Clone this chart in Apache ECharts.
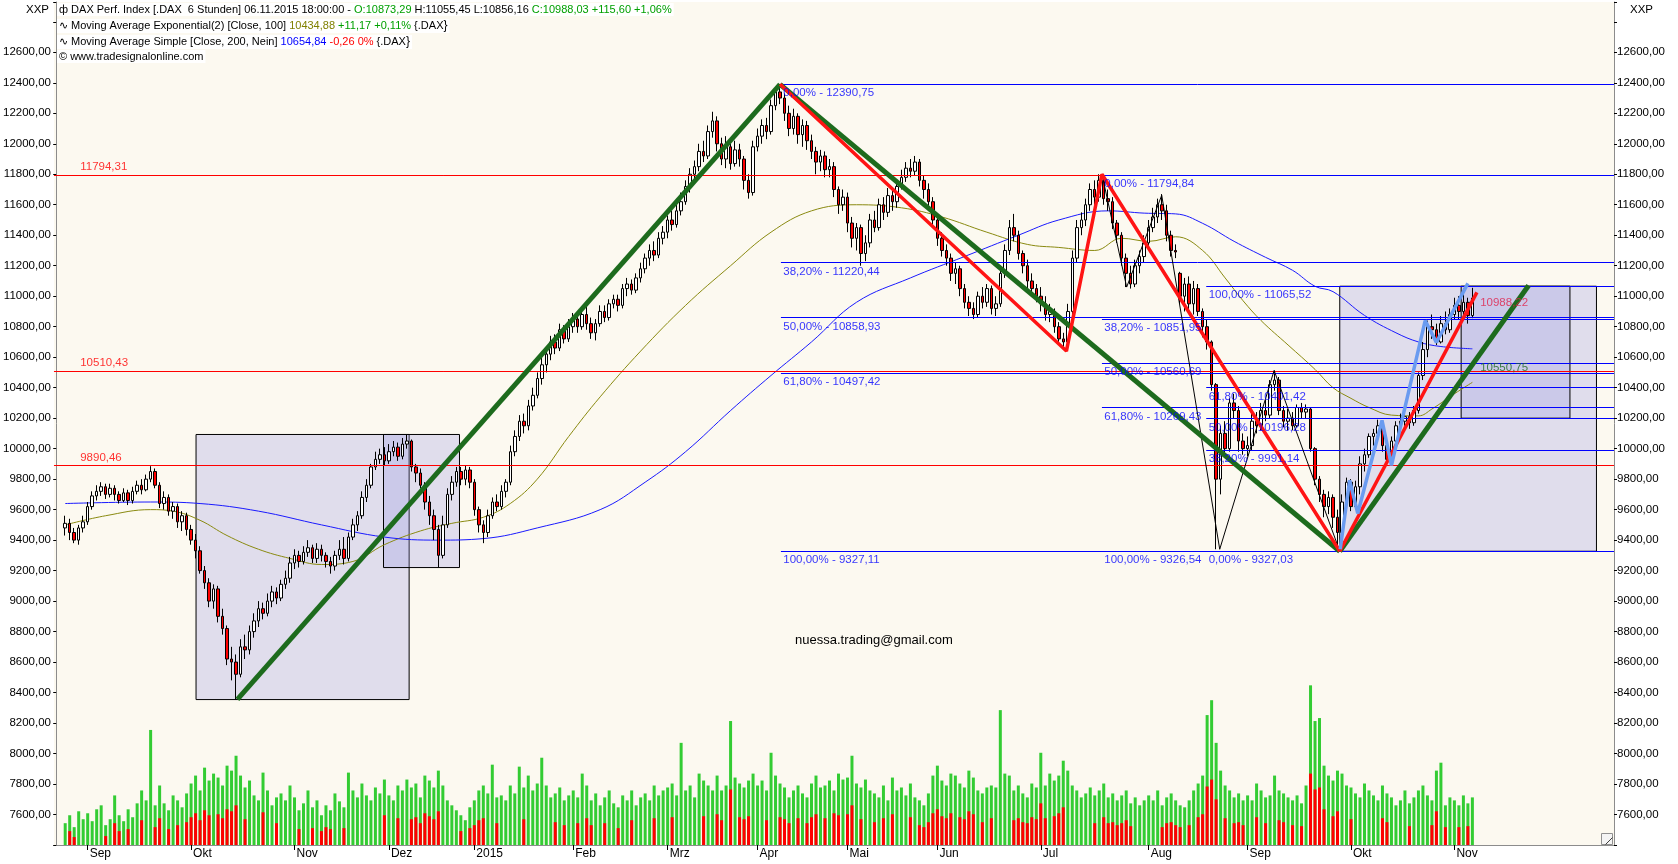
<!DOCTYPE html>
<html><head><meta charset="utf-8">
<script src="https://cdn.jsdelivr.net/npm/echarts/dist/echarts.min.js"></script>
<style>html,body{margin:0;padding:0;background:#fff;}#c{width:1678px;height:864px;}</style>
</head><body><div id="c"></div>
<script>
// ---------- data ----------
const firstBar = 2;           // slot index of first candle
const totalSlots = 347;       // bar slots on the time axis (incl. empty future area)
const monthIdx   = [7,30,53,74,93,115,136,156,176,196,219,243,265,288,311];
const monthNames = ['Sep','Okt','Nov','Dez','2015','Feb','Mrz','Apr','Mai','Jun','Jul','Aug','Sep','Okt','Nov'];
const priceTicks = [7600,12600,200];

// [open, close, low, high]
const candles = [
// Aug 2014
[9480,9510,9430,9560],[9510,9450,9400,9540],[9450,9400,9380,9480],[9400,9480,9370,9500],[9480,9520,9450,9560],
// Sep
[9520,9620,9500,9650],[9620,9690,9600,9720],[9690,9720,9660,9760],[9720,9750,9690,9780],[9750,9700,9670,9770],[9700,9740,9680,9770],[9740,9700,9660,9760],[9700,9660,9640,9720],[9660,9710,9650,9740],[9710,9660,9630,9730],[9660,9720,9640,9750],[9720,9760,9700,9790],[9760,9730,9700,9800],[9730,9800,9720,9830],[9800,9850,9780,9885],[9850,9760,9740,9870],[9760,9640,9610,9780],[9640,9680,9600,9720],[9680,9590,9560,9700],[9590,9620,9540,9650],[9620,9520,9480,9640],[9520,9560,9460,9590],[9560,9470,9430,9580],
// Okt
[9470,9400,9370,9500],[9400,9330,9280,9440],[9330,9200,9180,9360],[9200,9120,9080,9230],[9120,9000,8960,9150],[9000,9080,8950,9110],[9080,8900,8860,9100],[8900,8820,8780,8950],[8820,8620,8580,8840],[8620,8600,8480,8700],[8600,8520,8355,8650],[8520,8700,8500,8750],[8700,8680,8620,8780],[8680,8800,8650,8840],[8800,8870,8760,8920],[8870,8950,8830,9000],[8950,8920,8880,8990],[8920,9000,8900,9050],[9000,9060,8960,9100],[9060,9020,8980,9090],[9020,9110,9000,9140],[9110,9150,9080,9200],[9150,9250,9120,9290],
// Nov
[9250,9300,9210,9340],[9300,9260,9220,9330],[9260,9320,9240,9360],[9320,9350,9290,9400],[9350,9280,9250,9370],[9280,9340,9250,9380],[9340,9300,9260,9370],[9300,9260,9220,9320],[9260,9230,9180,9290],[9230,9300,9200,9330],[9300,9340,9270,9400],[9340,9280,9240,9420],[9280,9420,9260,9450],[9420,9500,9400,9540],[9500,9560,9460,9590],[9560,9680,9540,9720],[9680,9760,9650,9800],[9760,9880,9740,9900],[9880,9930,9860,9980],[9930,9960,9900,10000],[9960,9920,9890,10010],
// Dez
[9920,9980,9900,10030],[9980,10010,9950,10050],[10010,9950,9920,10040],[9950,10030,9930,10070],[10030,10050,10000,10090],[10050,9880,9850,10060],[9880,9840,9780,9900],[9840,9760,9740,9870],[9760,9650,9600,9780],[9650,9560,9500,9690],[9560,9470,9400,9600],[9470,9300,9220,9500],[9300,9500,9280,9560],[9500,9700,9480,9740],[9700,9780,9660,9820],[9780,9850,9750,9880],[9850,9800,9760,9880],[9800,9860,9760,9890],[9860,9780,9740,9880],
// Jan 2015
[9780,9600,9560,9800],[9600,9500,9450,9620],[9500,9450,9380,9530],[9450,9560,9420,9600],[9560,9650,9540,9680],[9650,9620,9590,9700],[9620,9720,9600,9760],[9720,9780,9680,9800],[9780,9980,9760,10020],[9980,10080,9950,10120],[10080,10180,10050,10220],[10180,10150,10100,10230],[10150,10280,10120,10320],[10280,10350,10250,10400],[10350,10460,10330,10500],[10460,10550,10420,10600],[10550,10620,10500,10660],[10620,10700,10580,10740],[10700,10660,10620,10750],[10660,10780,10640,10820],[10780,10720,10690,10810],[10720,10800,10700,10850],
// Feb
[10800,10850,10760,10890],[10850,10800,10760,10880],[10800,10880,10780,10920],[10880,10820,10780,10930],[10820,10760,10720,10860],[10760,10820,10710,10850],[10820,10900,10800,10940],[10900,10860,10830,10940],[10860,10950,10840,10980],[10950,10980,10920,11010],[10980,10940,10900,11010],[10940,11050,10920,11080],[11050,11080,11000,11120],[11080,11040,11010,11110],[11040,11120,11020,11150],[11120,11180,11090,11220],[11180,11250,11150,11280],[11250,11300,11200,11340],[11300,11270,11230,11360],[11270,11380,11250,11420],[11380,11420,11340,11460],
// Mrz
[11420,11500,11380,11530],[11500,11470,11430,11560],[11470,11560,11450,11600],[11560,11620,11530,11680],[11620,11720,11600,11760],[11720,11800,11680,11840],[11800,11850,11760,11890],[11850,11950,11820,12000],[11950,11920,11880,12020],[11920,12080,11900,12120],[12080,12150,12040,12210],[12150,12000,11950,12180],[12000,11900,11860,12040],[11900,11980,11840,12050],[11980,11870,11830,12000],[11870,11960,11850,12020],[11960,11900,11850,12000],[11900,11760,11700,11920],[11760,11680,11640,11800],[11680,11980,11660,12020],
// Apr
[11980,12050,11950,12100],[12050,12120,12000,12160],[12120,12080,12030,12170],[12080,12250,12060,12290],[12250,12340,12220,12370],[12340,12300,12260,12390],[12300,12200,12150,12330],[12200,12100,12050,12250],[12100,12180,12060,12230],[12180,12060,12000,12200],[12060,12120,11980,12160],[12120,12020,11960,12150],[12020,11950,11900,12060],[11950,11880,11800,11980],[11880,11920,11820,11960],[11920,11830,11780,11950],[11830,11850,11780,11900],[11850,11700,11650,11880],[11700,11600,11540,11720],[11600,11650,11560,11700],
// Mai
[11650,11480,11420,11680],[11480,11380,11320,11520],[11380,11450,11300,11480],[11450,11280,11200,11470],[11280,11350,11230,11400],[11350,11500,11320,11540],[11500,11450,11420,11560],[11450,11600,11430,11640],[11600,11550,11500,11650],[11550,11660,11520,11710],[11660,11620,11560,11700],[11620,11720,11580,11760],[11720,11780,11700,11830],[11780,11840,11750,11880],[11840,11820,11780,11900],[11820,11880,11790,11920],[11880,11760,11720,11900],[11760,11700,11640,11790],[11700,11620,11580,11740],[11620,11500,11460,11650],
// Jun
[11500,11380,11330,11530],[11380,11300,11260,11420],[11300,11250,11200,11340],[11250,11150,11100,11280],[11150,11180,11080,11220],[11180,11050,11000,11200],[11050,10960,10920,11080],[10960,10920,10870,11000],[10920,10880,10850,10960],[10880,11000,10860,11030],[11000,10960,10920,11060],[10960,11050,10930,11080],[11050,10920,10880,11070],[10920,10950,10870,11000],[10950,11150,10930,11200],[11150,11300,11120,11340],[11300,11450,11270,11500],[11450,11400,11360,11540],[11400,11280,11240,11430],[11280,11200,11150,11300],[11200,11100,11050,11240],[11100,11050,11020,11150],[11050,11000,10960,11080],
// Jul
[11000,10950,10900,11060],[10950,10880,10840,11000],[10880,10900,10830,10950],[10900,10800,10760,10920],[10800,10720,10680,10830],[10720,10700,10650,10760],[10700,10900,10690,10950],[10900,11250,10880,11300],[11250,11450,11220,11500],[11450,11500,11400,11550],[11500,11600,11460,11640],[11600,11700,11560,11740],[11700,11650,11600,11760],[11650,11760,11620,11800],[11760,11640,11600,11790],[11640,11620,11560,11700],[11620,11480,11440,11650],[11480,11400,11350,11500],[11400,11250,11200,11420],[11250,11150,11060,11280],[11150,11080,11050,11200],[11080,11200,11060,11240],[11200,11260,11150,11300],[11260,11350,11220,11400],
// Aug
[11350,11450,11320,11500],[11450,11520,11420,11580],[11520,11600,11480,11640],[11600,11560,11500,11670],[11560,11400,11360,11600],[11400,11300,11260,11430],[11300,11290,11250,11340],[11150,11000,10950,11160],[11000,11080,10900,11120],[11080,10950,10900,11130],[10950,11050,10880,11100],[11050,10900,10870,11080],[10900,10800,10730,10920],[10800,10700,10650,10850],[10700,10420,10380,10710],[10420,9800,9340,10430],[9800,10100,9700,10150],[10100,10000,9950,10180],[10000,10300,9980,10330],[10300,10250,10200,10360],[10250,10050,9980,10280],[10050,10000,9960,10100],
// Sep
[10000,10020,9950,10080],[10020,10180,9990,10230],[10180,10150,10100,10240],[10150,10250,10120,10300],[10250,10220,10180,10320],[10220,10420,10200,10450],[10420,10450,10380,10513],[10450,10250,10220,10470],[10250,10180,10140,10280],[10180,10200,10120,10260],[10200,10150,10120,10240],[10150,10270,10140,10290],[10270,10240,10200,10300],[10240,10260,10200,10290],[10260,10000,9980,10270],[10000,9800,9760,10010],[9800,9700,9650,9820],[9700,9620,9550,9730],[9620,9680,9570,9720],[9680,9550,9480,9700],[9550,9450,9327,9600],[9450,9650,9400,9700],[9650,9780,9600,9810],
// Okt
[9780,9620,9590,9800],[9620,9750,9600,9790],[9750,9900,9700,9950],[9900,9960,9850,10000],[9960,10080,9940,10100],[10080,10100,10020,10130],[10100,10150,10060,10190],[10150,10020,9980,10170],[10020,9930,9900,10050],[9930,10050,9890,10080],[10050,10150,10030,10180],[10150,10180,10120,10230],[10180,10210,10150,10250],[10210,10170,10130,10240],[10170,10250,10150,10280],[10250,10480,10230,10500],[10480,10650,10450,10700],[10650,10800,10600,10840],[10800,10780,10720,10880],[10780,10700,10680,10820],[10700,10820,10690,10870],[10820,10780,10750,10900],[10780,10880,10760,10920],
// Nov
[10880,10940,10850,10990],[10940,10900,10850,11000],[10900,10960,10860,11050],[10960,10873,10820,10990],[10873,10988,10856,11055]
];

const volumeTotal = [22,30,18,34,26, 32,24,36,40,20,26,50,30,24,36,28,42, 55,45,116,40,60,42,35,50,45,38,52, 62,70,55,78,65,72,68,60,80,75,90, 70,58,65,50,45,73,55,40,48,52,45,60, 48,35,42,55,38,45,30,40,35,52,44,38, 73,55,48,62,50,45,58,52,66, 50,45,60,55,66,58,62,48,70,65,58,75,60,45,40,35,30,25,38, 45,55,60,52,81,48,50,45,60,52,79,58,70,55,62,88,60,48,52,58,45,50, 55,48,72,60,45,52,40,48,55,42,38,50,45,55,40,48,52,45,60,50,55, 58,62,50,103,55,60,48,72,65,60,55,70,55,60,125,68,62,58,65,72, 60,65,55,93,70,62,58,48,55,60,52,48,62,70,58,60,65,55,72,66, 68,90,62,58,66,55,52,48,60,45,68,55,58,50,62,48,45,40,52,70, 80,65,60,72,70,62,58,75,68,55,52,58,60,58,136,72,70,55,60,52,48,62,58, 93,60,72,65,70,85,75,60,55,48,52,58,50,55,62,48,52,45,50,55,42,48,40,45, 50,45,55,40,48,52,45,40,38,45,55,62,70,131,146,103,75,60,55,48,52,45, 50,45,62,55,48,50,70,55,52,48,45,50,42,60,161,125,128,80,70,65,75,72,60, 58,52,48,62,55,50,45,60,52,48,40,45,55,42,48,55,60,50,45,75,83,40,48, 45,40,50,42,48];
const volumeDown = [0,14,8,0,0, 0,0,0,0,9,0,22,14,0,16,0,0, 25,0,0,18,27,0,16,0,20,0,23, 28,32,25,35,30,0,31,27,36,34,40, 0,26,0,0,0,33,0,0,22,0,0,0, 0,16,0,0,17,0,14,18,16,0,0,17, 0,0,0,0,0,0,0,0,30, 0,0,27,0,0,26,28,22,32,29,26,34,0,0,0,0,14,0,17, 20,25,27,0,0,22,0,0,0,0,0,26,0,0,0,0,0,0,23,0,20,0, 0,22,0,27,20,0,0,22,0,0,17,0,0,25,0,0,0,0,27,0,0, 0,28,0,0,0,0,0,0,29,0,0,31,25,0,56,0,28,26,29,0, 0,0,25,0,0,28,26,22,0,27,0,22,28,31,0,27,0,32,30,0, 31,40,0,26,0,0,23,0,27,0,31,0,0,0,28,0,20,18,23,32, 36,29,27,32,0,28,26,34,31,0,23,0,27,0,0,0,0,25,27,23,22,28,26, 42,27,0,29,32,38,0,0,0,0,0,0,22,0,28,22,23,20,22,25,19,0,0,0, 0,0,0,18,22,23,20,18,0,20,0,28,31,59,66,46,0,27,0,22,23,20, 0,0,28,0,22,0,0,25,23,0,20,0,19,0,72,56,58,36,0,29,34,0,0, 26,0,0,0,0,0,0,27,23,0,0,0,0,19,0,0,0,0,20,34,0,18,0, 0,18,0,19,0];

const emaPoints = [[2,9500],[11,9560],[21,9600],[26,9590],[32,9530],[38,9430],[45,9340],[52,9280],[59,9240],[66,9260],[73,9370],[81,9460],[88,9510],[95,9550],[101,9640],[107,9800],[114,10080],[121,10340],[130,10640],[140,10940],[150,11200],[159,11420],[168,11560],[178,11600],[188,11580],[197,11520],[207,11420],[216,11340],[223,11320],[231,11300],[237,11380],[243,11360],[249,11390],[255,11300],[260,11120],[264,10970],[268,10840],[274,10680],[280,10520],[284,10400],[288,10330],[292,10270],[297,10220],[303,10215],[306,10260],[311,10360],[315,10435]];
const smaPoints = [[2,9640],[21,9650],[32,9640],[45,9590],[59,9500],[73,9420],[85,9400],[95,9410],[107,9480],[121,9600],[131,9780],[140,9980],[150,10250],[159,10480],[168,10700],[178,10960],[190,11120],[202,11260],[214,11400],[223,11500],[234,11560],[242,11545],[249,11540],[255,11478],[262,11360],[269,11255],[275,11170],[280,11065],[284,11030],[291,10874],[298,10760],[303,10700],[308,10670],[315,10655]];

const redLevels = [11794.31, 10510.43, 9890.46];
const redLevelTexts = ['11794,31','10510,43','9890,46'];

const fib1Start = 161.2, fib1Levels = [12390.75,11220.44,10858.93,10497.42,9327.11];
const fib1Texts = ['0,00% - 12390,75','38,20% - 11220,44','50,00% - 10858,93','61,80% - 10497,42','100,00% - 9327,11'];
const fib2Start = 232.6, fib2Levels = [11794.84,10851.95,10560.69,10269.43,9326.54];
const fib2Texts = ['0,00% - 11794,84','38,20% - 10851,95','50,00% - 10560,69','61,80% - 10269,43','100,00% - 9326,54'];
const fib3Start = 255.8, fib3Levels = [11065.52,10401.42,10196.28,9991.14,9327.03];
const fib3Texts = ['100,00% - 11065,52','61,80% - 10401,42','50,00% - 10196,28','38,20% - 9991,14','0,00% - 9327,03'];

// rectangles [x1, y1, x2, y2]
const boxes = [[31.1,10093,78.5,8354],[72.8,10093,89.7,9220],[285.5,11065.5,342.6,9327],[312.5,11065.5,336.7,10200]];
const greenTrend = [[[40.3,8355],[161,12390]],[[161,12390],[285.5,9327]],[[285.5,9327],[327.5,11070]]];
const redTrend = [[[161,12390],[224.7,10640],[232.6,11800],[285.5,9327]],[[285.5,9327],[316,11025]]];
const blueWave = [[285.6,9340],[287.7,9792],[289.5,9575],[294.9,10185],[297,9890],[304.5,10840],[307,10697],[314,11084]];
const blackWave = [[232.6,11800],[238.1,11060],[245.9,11662],[258.8,9340],[270.9,10513],[285.5,9327]];
const lastPriceLabel = [316.4, 10955, '10988,22'];
const trendValueLabel = [316.4, 10528, '10550,75'];

// ---------- chart ----------
const FONT = 'Liberation Sans';
const fmt = v => v.toFixed(2).replace('.', ',');
const chart = echarts.init(document.getElementById('c'));

function fibSeriesLines(start, levels) {
  return levels.map(v => [{coord:[start, v]}, {coord:[totalSlots - 0.5, v]}]);
}
function labelItems(start, levels, texts, color, dy) {
  return levels.map((v, k) => ({
    value:[start, v],
    label:{show:true, formatter:texts[k], position:'right', distance:1, offset:[0, dy], color:color, fontSize:11.5, fontFamily:FONT}
  }));
}
const yAxisCommon = {
  type:'value', min:7400, max:12930, interval:200,
  splitLine:{show:false},
  axisLine:{show:true, lineStyle:{color:'#8c8c8c'}},
  axisTick:{show:true, length:3, lineStyle:{color:'#000'}},
  axisLabel:{formatter:v => (v >= priceTicks[0] && v <= priceTicks[1] && v % priceTicks[2] === 0) ? fmt(v) : '',
             margin:3, color:'#000', fontSize:11.5, fontFamily:FONT}
};

const lineSeries = (data, color, width, z) => ({
  type:'line', data:data, showSymbol:false, symbol:'none', silent:true,
  lineStyle:{color:color, width:width}, z:z, animation:false
});

const series = [];
// rectangles
series.push({type:'line', data:[], z:1, silent:true,
  markArea:{silent:true, itemStyle:{color:'rgba(150,150,225,0.28)', borderColor:'#000', borderWidth:1},
    data: boxes.map(b => [{coord:[b[0], b[1]]}, {coord:[b[2], b[3]]}])}});
// volume
series.push({type:'bar', yAxisIndex:2, data: volumeTotal.map((v,k) => [firstBar + k, v]), barWidth:3, barGap:'-100%',
  itemStyle:{color:'#33cc33'}, z:2, silent:true});
series.push({type:'bar', yAxisIndex:2, data: volumeDown.map((v,k) => [firstBar + k, v]), barWidth:3, barGap:'-100%',
  itemStyle:{color:'#ff0000'}, z:2, silent:true});
// moving averages
series.push(Object.assign(lineSeries(emaPoints, '#8a8a10', 1, 3), {smooth:0.4}));
series.push(Object.assign(lineSeries(smaPoints, '#1a1aff', 1, 3), {smooth:0.4}));
// candles
series.push({type:'candlestick', data: candles.map((c,k) => [firstBar + k, c[0], c[1], c[2], c[3]]),
  encode:{x:0, y:[1,2,3,4]}, barWidth:3, z:4, silent:true,
  itemStyle:{color:'#ffffff', color0:'#ff0000', borderColor:'#000000', borderColor0:'#000000', borderWidth:1}});
// horizontal red levels
series.push({type:'line', data:[], z:5, silent:true,
  markLine:{silent:true, symbol:['none','none'], label:{show:false}, lineStyle:{color:'#ff0000', width:1, type:'solid'},
    data: redLevels.map(v => ({yAxis:v}))}});
// fib lines
series.push({type:'line', data:[], z:5, silent:true,
  markLine:{silent:true, symbol:['none','none'], label:{show:false}, lineStyle:{color:'#0000ff', width:1, type:'solid'},
    data: fibSeriesLines(fib1Start, fib1Levels).concat(fibSeriesLines(fib2Start, fib2Levels), fibSeriesLines(fib3Start, fib3Levels))}});
// drawing tools
series.push(lineSeries(blackWave, '#000000', 1, 6));
greenTrend.forEach(d => series.push(lineSeries(d, '#1d6b1d', 5, 7)));
redTrend.forEach(d => series.push(lineSeries(d, '#ff1414', 3.5, 8)));
series.push(lineSeries(blueWave, '#6a9bf0', 3.5, 9));
// text labels
const labelData = []
  .concat(labelItems(fib1Start + 0.2, fib1Levels, fib1Texts, '#0000ff', 9))
  .concat(labelItems(fib2Start + 0.2, fib2Levels, fib2Texts, '#0000ff', 9))
  .concat(labelItems(fib3Start + 0.2, fib3Levels, fib3Texts, '#0000ff', 9))
  .concat(labelItems(5.0, redLevels, redLevelTexts, '#ff0000', -8))
  .concat([{value:[lastPriceLabel[0], lastPriceLabel[1]], label:{show:true, formatter:lastPriceLabel[2], position:'right', distance:1, color:'#e0204a', fontSize:11.5, fontFamily:FONT}},
           {value:[trendValueLabel[0], trendValueLabel[1]], label:{show:true, formatter:trendValueLabel[2], position:'right', distance:1, color:'#1d6b1d', fontSize:11.5, fontFamily:FONT}}]);
series.push({type:'scatter', data:labelData, symbolSize:1, itemStyle:{color:'rgba(0,0,0,0)'}, z:10, silent:true});

const option = {
  animation:false,
  backgroundColor:'#ffffff',
  grid:{left:53, right:64, top:2, bottom:19, show:true, backgroundColor:'#fcf9f0', borderWidth:0},
  xAxis:{type:'value', min:-0.5, max:totalSlots - 0.5,
    splitLine:{show:false},
    axisLine:{lineStyle:{color:'#8c8c8c'}},
    axisTick:{show:true, customValues:monthIdx, length:5, lineStyle:{color:'#000'}},
    axisLabel:{customValues:monthIdx, formatter:v => monthNames[monthIdx.indexOf(v)] || '', align:'left', margin:3,
               padding:[0,0,0,2], color:'#000', fontSize:12, fontFamily:FONT}},
  yAxis:[
    Object.assign({}, yAxisCommon, {position:'left'}),
    Object.assign({}, yAxisCommon, {position:'right'}),
    {type:'value', min:0, max:850, show:false}
  ],
  graphic:[
    {type:'text', left:26, top:4, z:100, style:{text:'XXP', fill:'#000', font:'11.5px "Liberation Sans"'}},
    {type:'text', left:1630, top:4, z:100, style:{text:'XXP', fill:'#000', font:'11.5px "Liberation Sans"'}},
    {type:'text', left:57, top:3, z:100, style:{
      text:'{k|ф DAX Perf. Index [.DAX  6 Stunden] 06.11.2015 18:00:00 - }{g|O:10873,29}{k| H:11055,45 L:10856,16 }{g|C:10988,03 +115,60 +1,06%}',
      backgroundColor:'#ffffff', padding:[1,2,1,2],
      rich:{k:{fill:'#000', fontFamily:FONT, fontSize:11}, g:{fill:'#00a000', fontFamily:FONT, fontSize:11}}}},
    {type:'text', left:57, top:19, z:100, style:{
      text:'{k|∿ Moving Average Exponential(2) [Close, 100] }{o|10434,88}{g| +11,17 +0,11%}{k| {.DAX}}',
      backgroundColor:'#ffffff', padding:[1,2,1,2],
      rich:{k:{fill:'#000', fontFamily:FONT, fontSize:11}, o:{fill:'#808000', fontFamily:FONT, fontSize:11}, g:{fill:'#00a000', fontFamily:FONT, fontSize:11}}}},
    {type:'text', left:57, top:35, z:100, style:{
      text:'{k|∿ Moving Average Simple [Close, 200, Nein] }{b|10654,84}{r| -0,26 0%}{k| {.DAX}}',
      backgroundColor:'#ffffff', padding:[1,2,1,2],
      rich:{k:{fill:'#000', fontFamily:FONT, fontSize:11}, b:{fill:'#0000ff', fontFamily:FONT, fontSize:11}, r:{fill:'#ff0000', fontFamily:FONT, fontSize:11}}}},
    {type:'text', left:57, top:50, z:100, style:{text:'© www.tradesignalonline.com', fill:'#000',
      backgroundColor:'#ffffff', padding:[1,2,1,2], font:'11px "Liberation Sans"'}},
    {type:'text', left:795, top:634, z:100, style:{text:'nuessa.trading@gmail.com', fill:'#000', font:'13px "Liberation Sans"'}},
    {type:'rect', left:1601, top:833, z:100, shape:{width:11, height:11}, style:{fill:'#f4f4f4', stroke:'#909090', lineWidth:1}},
    {type:'line', left:1603, top:835, z:101, shape:{x1:0, y1:7, x2:7, y2:0}, style:{stroke:'#404040', lineWidth:1}}
  ],
  series: series
};
chart.setOption(option);
</script>
</body></html>
